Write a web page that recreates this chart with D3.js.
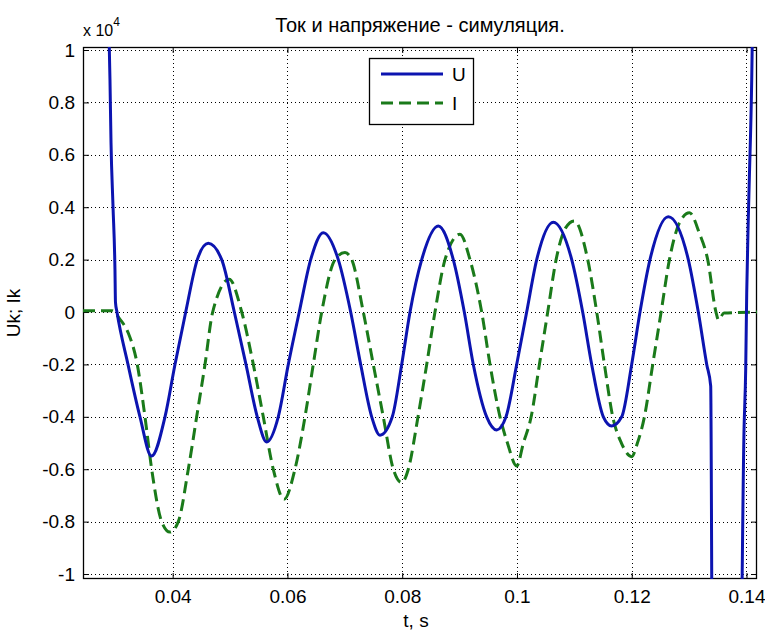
<!DOCTYPE html>
<html>
<head>
<meta charset="utf-8">
<script src="https://cdn.jsdelivr.net/npm/d3@7"></script>
<style>
  body { margin: 0; background: #fff; }
  svg text { font-family: "Liberation Sans", Arial, sans-serif; fill: #000; }
</style>
</head>
<body>
<div id="chart"></div>
<script>
// time axis, seconds
var uTime = [0.02886, 0.02907, 0.02925, 0.02960, 0.02994, 0.03003, 0.03029, 0.03221, 0.03430, 0.03631,
  0.03866, 0.04040, 0.04227, 0.04429, 0.04620, 0.04854, 0.05074, 0.05277, 0.05474, 0.05638,
  0.05840, 0.06015, 0.06206, 0.06405, 0.06625, 0.06886, 0.07102, 0.07276, 0.07468, 0.07613,
  0.07827, 0.07991, 0.08136, 0.08340, 0.08629, 0.08890, 0.09082, 0.09239, 0.09472, 0.09647,
  0.09809, 0.09995, 0.10169, 0.10344, 0.10633, 0.10954, 0.11145, 0.11302, 0.11505, 0.11651,
  0.11825, 0.11999, 0.12144, 0.12318, 0.12637, 0.12986, 0.13160, 0.13307, 0.13376, 0.13408,
  0.13887, 0.13957, 0.13986, 0.14004, 0.14031, 0.14049, 0.14091, 0.14105];
var uValue = [11000, 8880, 6480, 4030, 1630, 370, 0, -2000, -4000, -5500,
  -4000, -2000, 0, 2000, 2620, 2000, 0, -2000, -4000, -4960,
  -4000, -2000, 0, 2000, 3030, 2000, 0, -2000, -4000, -4700,
  -4000, -2000, 0, 2000, 3280, 2000, 0, -2000, -4000, -4500,
  -4000, -2000, 0, 2000, 3430, 2000, 0, -2000, -4000, -4350,
  -4000, -2000, 0, 2000, 3640, 2000, 0, -2000, -2820, -15000,
  -15000, -4480, -2190, 750, 3540, 5060, 8880, 11000];

var iTime = [0.02437, 0.02942, 0.03082, 0.03226, 0.03383, 0.03517, 0.03634, 0.03808, 0.03953, 0.04098,
  0.04272, 0.04418, 0.04563, 0.04697, 0.04986, 0.05203, 0.05405, 0.05579, 0.05753, 0.05940,
  0.06131, 0.06306, 0.06450, 0.06597, 0.06829, 0.07003, 0.07120, 0.07322, 0.07496, 0.07670,
  0.07845, 0.07991, 0.08106, 0.08275, 0.08427, 0.08571, 0.08746, 0.09007, 0.09181, 0.09385,
  0.09530, 0.09704, 0.09834, 0.09995, 0.10112, 0.10247, 0.10391, 0.10536, 0.10682, 0.10845,
  0.11001, 0.11233, 0.11390, 0.11524, 0.11669, 0.11820, 0.11999, 0.12099, 0.12221, 0.12366,
  0.12512, 0.12657, 0.12831, 0.13006, 0.13180, 0.13324, 0.13468, 0.13512, 0.13608, 0.14183];
var iValue = [50, 50, -280, -800, -2000, -4000, -6000, -8000, -8400, -8000,
  -6000, -4000, -2000, 0, 1250, 0, -2000, -4000, -6000, -7150,
  -6000, -4000, -2000, 0, 2000, 2270, 2000, 0, -2000, -4000,
  -6000, -6510, -6000, -4000, -2000, 0, 2000, 2970, 2000, 0,
  -2000, -4000, -5000, -5880, -5000, -4000, -2000, 0, 2000, 3200,
  3470, 2000, 0, -2000, -4000, -5000, -5520, -5000, -4000, -2000,
  0, 2000, 3400, 3790, 3000, 2000, 0, -300, -40, 0];

var xTicks = [0.04, 0.06, 0.08, 0.1, 0.12, 0.14];
var yTicks = [-10000, -8000, -6000, -4000, -2000, 0, 2000, 4000, 6000, 8000, 10000];
var seriesNames = ["U", "I"];

let dimensions = {
	width: 765,
	height: 631,
	margin: { top: 47, right: 8, bottom: 52, left: 83 },
};
dimensions.boundedWidth = dimensions.width - dimensions.margin.left - dimensions.margin.right;
dimensions.boundedHeight = dimensions.height - dimensions.margin.top - dimensions.margin.bottom;

var root = d3.select("#chart")
	.append("svg")
	.attr("width", dimensions.width)
	.attr("height", dimensions.height);

var svg = root.append("g")
	.attr("transform", `translate(${dimensions.margin.left},${dimensions.margin.top})`);

var xScale = d3.scaleLinear()
	.domain([0.02437, 0.14183])
	.range([0, dimensions.boundedWidth]);

var yScale = d3.scaleLinear()
	.domain([-10190, 10115])
	.range([dimensions.boundedHeight, 0]);

svg.append("defs").append("clipPath").attr("id", "plotclip")
	.append("rect")
	.attr("width", dimensions.boundedWidth)
	.attr("height", dimensions.boundedHeight);

// dotted grid
var grid = svg.append("g").attr("class", "grid")
	.attr("stroke", "#000").attr("stroke-width", 1).attr("stroke-dasharray", "1,3");
grid.selectAll("line.gx").data(xTicks).enter().append("line")
	.attr("x1", d => Math.round(xScale(d)) + 0.5).attr("x2", d => Math.round(xScale(d)) + 0.5)
	.attr("y1", 0).attr("y2", dimensions.boundedHeight);
grid.selectAll("line.gy").data(yTicks).enter().append("line")
	.attr("y1", d => Math.round(yScale(d)) + 0.5).attr("y2", d => Math.round(yScale(d)) + 0.5)
	.attr("x1", 0).attr("x2", dimensions.boundedWidth);

// matlab style labels: plain hyphen minus, values shown x 10^4
var fmtY = d => String(+(d / 10000).toFixed(2));
var fmtX = d => String(d);

var xAxis = svg.append("g")
	.attr("transform", `translate(0,${dimensions.boundedHeight})`)
	.call(d3.axisBottom(xScale).tickValues(xTicks).tickFormat(fmtX).tickSizeInner(-6).tickSizeOuter(0).tickPadding(11));
var xTop = svg.append("g")
	.call(d3.axisTop(xScale).tickValues(xTicks).tickFormat("").tickSizeInner(-6).tickSizeOuter(0));
var yAxis = svg.append("g")
	.call(d3.axisLeft(yScale).tickValues(yTicks).tickFormat(fmtY).tickSizeInner(-6).tickSizeOuter(0).tickPadding(8));
var yRight = svg.append("g")
	.attr("transform", `translate(${dimensions.boundedWidth},0)`)
	.call(d3.axisRight(yScale).tickValues(yTicks).tickFormat("").tickSizeInner(-6).tickSizeOuter(0));

svg.selectAll(".domain").remove();
svg.selectAll(".tick line").attr("stroke", "#000");
svg.selectAll(".tick text").attr("font-size", 19).attr("fill", "#000")
	.attr("font-family", "Liberation Sans, Arial, sans-serif");

// frame
svg.append("rect")
	.attr("x", 0.5).attr("y", 0.5)
	.attr("width", dimensions.boundedWidth - 1)
	.attr("height", dimensions.boundedHeight - 1)
	.attr("fill", "none").attr("stroke", "#000").attr("stroke-width", 1.3);

var lineGen = d3.line()
	.x(d => xScale(d[0]))
	.y(d => yScale(d[1]))
	.curve(d3.curveMonotoneX);

var plot = svg.append("g").attr("clip-path", "url(#plotclip)");

var iData = iTime.map((t, k) => [t, iValue[k]]);
var uData = uTime.map((t, k) => [t, uValue[k]]);

plot.append("path")
	.datum(iData)
	.attr("d", lineGen)
	.attr("fill", "none")
	.attr("stroke", "#1a7a1a")
	.attr("stroke-width", 3)
	.attr("stroke-dasharray", "12,6");

plot.append("path")
	.datum(uData)
	.attr("d", lineGen)
	.attr("fill", "none")
	.attr("stroke", "#0c14b0")
	.attr("stroke-width", 3);

// exponent label
var expo = root.append("text")
	.attr("x", dimensions.margin.left)
	.attr("y", 36)
	.attr("font-size", 16);
expo.append("tspan").text("x 10");
expo.append("tspan").attr("dy", -10).attr("font-size", 12).text("4");

// title and axis labels
root.append("text")
	.attr("x", dimensions.margin.left + dimensions.boundedWidth / 2)
	.attr("y", 32)
	.attr("text-anchor", "middle")
	.attr("font-size", 20)
	.text("Ток и напряжение - симуляция.");

root.append("text")
	.attr("x", 416)
	.attr("y", 627)
	.attr("text-anchor", "middle")
	.attr("font-size", 19)
	.text("t, s");

root.append("text")
	.attr("transform", `translate(20,${dimensions.margin.top + dimensions.boundedHeight / 2}) rotate(-90)`)
	.attr("text-anchor", "middle")
	.attr("font-size", 19)
	.text("Uk; Ik");

// legend
var legend = svg.append("g").attr("transform", "translate(286,11)");
legend.append("rect")
	.attr("x", 0.5).attr("y", 0.5).attr("width", 104).attr("height", 66)
	.attr("fill", "#fff").attr("stroke", "#000").attr("stroke-width", 1.3);
var legendStyle = [
	{ color: "#0c14b0", dash: null },
	{ color: "#1a7a1a", dash: "12,6" }
];
seriesNames.forEach(function(name, k) {
	var ly = 16 + k * 29;
	legend.append("line")
		.attr("x1", 12).attr("x2", 74).attr("y1", ly).attr("y2", ly)
		.attr("stroke", legendStyle[k].color).attr("stroke-width", 3)
		.attr("stroke-dasharray", legendStyle[k].dash);
	legend.append("text")
		.attr("x", 83).attr("y", ly).attr("dy", "0.35em")
		.attr("font-size", 19)
		.text(name);
});
</script>
</body>
</html>
